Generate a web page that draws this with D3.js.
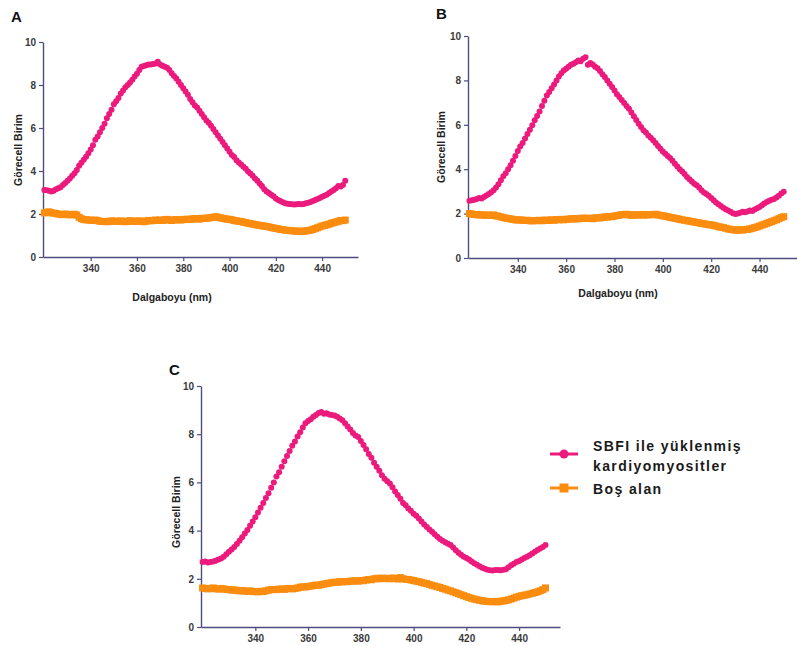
<!DOCTYPE html>
<html>
<head>
<meta charset="utf-8">
<script src="https://cdn.jsdelivr.net/npm/d3@7"></script>
<style>
  body { margin: 0; background: #fff; }
  svg { display: block; font-family: "Liberation Sans", Arial, sans-serif; }
  .tick text { font-size: 10px; font-weight: bold; fill: #3a3a3a; }
  .axistitle { font-size: 10.5px; font-weight: bold; fill: #222; }
  .panel { font-size: 15px; font-weight: bold; fill: #111; }
  .legend { font-size: 14px; font-weight: bold; fill: #1a1a1a; letter-spacing: 1.4px; }
</style>
</head>
<body>
<div id="chart"></div>
<script>
(function() {

const w = 797;
const h = 646;

// wavelength grid (nm), one reading per nm
const wavelengths = d3.range(320, 451);

const seriesNames = ["SBFI ile yüklenmiş", "kardiyomyositler", "Boş alan"];
const yTicks = [0, 2, 4, 6, 8, 10];
const xTicks = [340, 360, 380, 400, 420, 440];

// panel A
const sbfiA = [
  3.12, 3.10, 3.08, 3.05, 3.08, 3.15, 3.20, 3.25, 3.35, 3.44,
  3.55, 3.65, 3.78, 3.90, 4.05, 4.25, 4.38, 4.52, 4.66, 4.82,
  5.00, 5.20, 5.45, 5.60, 5.80, 6.00, 6.20, 6.45, 6.65, 6.85,
  7.10, 7.25, 7.40, 7.60, 7.75, 7.90, 8.00, 8.12, 8.25, 8.40,
  8.52, 8.70, 8.85, 8.88, 8.92, 8.95, 8.95, 8.98, 9.00, 9.08,
  8.95, 8.90, 8.85, 8.80, 8.70, 8.55, 8.42, 8.30, 8.15, 8.00,
  7.85, 7.70, 7.55, 7.35, 7.20, 7.05, 6.95, 6.80, 6.65, 6.50,
  6.35, 6.25, 6.10, 5.95, 5.80, 5.65, 5.50, 5.35, 5.20, 5.05,
  4.90, 4.75, 4.65, 4.50, 4.40, 4.30, 4.20, 4.10, 3.98, 3.88,
  3.78, 3.65, 3.55, 3.42, 3.30, 3.15, 3.05, 2.98, 2.90, 2.82,
  2.72, 2.65, 2.60, 2.55, 2.50, 2.48, 2.46, 2.45, 2.44, 2.45,
  2.47, 2.45, 2.47, 2.50, 2.52, 2.56, 2.60, 2.65, 2.70, 2.75,
  2.80, 2.85, 2.90, 2.98, 3.05, 3.12, 3.20, 3.30, 3.28, 3.35,
  3.55
];
const blankA = [
  2.05, 2.08, 2.10, 2.06, 2.04, 2.02, 2.00, 1.98, 1.97, 2.00,
  1.98, 1.96, 1.97, 1.99, 1.95, 1.85, 1.78, 1.74, 1.73, 1.72,
  1.71, 1.70, 1.72, 1.69, 1.66, 1.65, 1.66, 1.64, 1.65, 1.68,
  1.66, 1.67, 1.65, 1.68, 1.66, 1.64, 1.66, 1.69, 1.67, 1.65,
  1.67, 1.68, 1.66, 1.64, 1.67, 1.70, 1.68, 1.70, 1.72, 1.70,
  1.72, 1.70, 1.73, 1.75, 1.72, 1.70, 1.72, 1.74, 1.73, 1.72,
  1.75, 1.74, 1.76, 1.75, 1.77, 1.79, 1.78, 1.76, 1.80, 1.79,
  1.80, 1.82, 1.83, 1.85, 1.87, 1.85, 1.82, 1.80, 1.78, 1.76,
  1.75, 1.73, 1.70, 1.68, 1.66, 1.65, 1.62, 1.60, 1.57, 1.55,
  1.53, 1.51, 1.49, 1.47, 1.45, 1.44, 1.42, 1.40, 1.37, 1.35,
  1.33, 1.31, 1.28, 1.27, 1.25, 1.24, 1.23, 1.22, 1.21, 1.20,
  1.20, 1.19, 1.20, 1.21, 1.23, 1.25, 1.28, 1.32, 1.36, 1.40,
  1.44, 1.47, 1.50, 1.53, 1.57, 1.60, 1.63, 1.66, 1.70, 1.69,
  1.72
];

// panel B
const sbfiB = [
  2.58, 2.60, 2.62, 2.66, 2.70, 2.68, 2.75, 2.82, 2.88, 2.96,
  3.05, 3.18, 3.32, 3.50, 3.68, 3.82, 4.00, 4.18, 4.38, 4.60,
  4.82, 5.02, 5.18, 5.38, 5.58, 5.78, 5.98, 6.20, 6.40, 6.60,
  6.85, 7.08, 7.32, 7.48, 7.65, 7.82, 8.00, 8.18, 8.32, 8.45,
  8.52, 8.62, 8.70, 8.75, 8.82, 8.90, 8.86, 8.98, 9.04, 8.70,
  8.78, 8.72, 8.62, 8.55, 8.42, 8.28, 8.15, 8.00, 7.85, 7.70,
  7.55, 7.38, 7.25, 7.12, 6.98, 6.85, 6.72, 6.55, 6.38, 6.22,
  6.05, 5.90, 5.76, 5.65, 5.52, 5.42, 5.30, 5.18, 5.05, 4.92,
  4.80, 4.70, 4.60, 4.50, 4.38, 4.25, 4.12, 4.00, 3.90, 3.78,
  3.65, 3.55, 3.45, 3.35, 3.28, 3.18, 3.05, 2.95, 2.88, 2.80,
  2.70, 2.60, 2.50, 2.42, 2.34, 2.26, 2.20, 2.14, 2.08, 2.02,
  1.98, 2.00, 2.04, 2.08, 2.06, 2.10, 2.14, 2.12, 2.18, 2.24,
  2.30, 2.38, 2.45, 2.52, 2.58, 2.62, 2.66, 2.72, 2.80, 2.90,
  2.98
];
const blankB = [
  2.00, 1.98, 1.96, 1.95, 1.94, 1.95, 1.93, 1.92, 1.94, 1.92,
  1.94, 1.90, 1.88, 1.85, 1.82, 1.80, 1.78, 1.76, 1.74, 1.72,
  1.71, 1.72, 1.70, 1.69, 1.70, 1.68, 1.67, 1.69, 1.68, 1.70,
  1.68, 1.70, 1.71, 1.69, 1.72, 1.70, 1.73, 1.72, 1.74, 1.72,
  1.74, 1.75, 1.77, 1.75, 1.78, 1.76, 1.78, 1.80, 1.78, 1.79,
  1.79, 1.77, 1.80, 1.82, 1.80, 1.83, 1.85, 1.84, 1.87, 1.86,
  1.89, 1.91, 1.93, 1.95, 1.96, 1.97, 1.94, 1.92, 1.95, 1.93,
  1.94, 1.96, 1.93, 1.95, 1.94, 1.96, 1.95, 1.97, 1.94, 1.92,
  1.90, 1.88, 1.86, 1.83, 1.81, 1.79, 1.77, 1.74, 1.72, 1.70,
  1.68, 1.66, 1.64, 1.62, 1.60, 1.58, 1.56, 1.54, 1.52, 1.50,
  1.49, 1.47, 1.44, 1.41, 1.39, 1.37, 1.34, 1.31, 1.29, 1.27,
  1.26, 1.25, 1.27, 1.26, 1.28, 1.29, 1.31, 1.34, 1.37, 1.40,
  1.44, 1.48, 1.52, 1.56, 1.60, 1.64, 1.68, 1.72, 1.77, 1.82,
  1.86
];

// panel C
const sbfiC = [
  2.70, 2.72, 2.68, 2.70, 2.72, 2.75, 2.80, 2.84, 2.92, 3.02,
  3.12, 3.22, 3.32, 3.44, 3.58, 3.72, 3.88, 4.02, 4.20, 4.38,
  4.55, 4.75, 4.95, 5.15, 5.35, 5.55, 5.78, 6.00, 6.25, 6.42,
  6.65, 6.88, 7.10, 7.30, 7.52, 7.70, 7.90, 8.08, 8.28, 8.45,
  8.55, 8.62, 8.72, 8.80, 8.88, 8.92, 8.85, 8.87, 8.82, 8.80,
  8.78, 8.72, 8.65, 8.58, 8.45, 8.32, 8.20, 8.05, 7.95, 7.88,
  7.72, 7.55, 7.38, 7.18, 7.02, 6.82, 6.65, 6.48, 6.30, 6.15,
  6.05, 5.95, 5.80, 5.62, 5.48, 5.32, 5.15, 5.05, 4.92, 4.82,
  4.70, 4.62, 4.50, 4.38, 4.25, 4.15, 4.05, 3.95, 3.85, 3.75,
  3.65, 3.58, 3.52, 3.45, 3.40, 3.30, 3.18, 3.08, 3.00, 2.92,
  2.86, 2.80, 2.72, 2.65, 2.58, 2.52, 2.46, 2.42, 2.38, 2.35,
  2.34, 2.36, 2.37, 2.35, 2.38, 2.40, 2.48, 2.56, 2.62, 2.70,
  2.74, 2.80, 2.86, 2.92, 2.98, 3.05, 3.12, 3.20, 3.26, 3.32,
  3.40
];
const blankC = [
  1.62, 1.60, 1.58, 1.60, 1.62, 1.59, 1.57, 1.60, 1.58, 1.56,
  1.55, 1.53, 1.54, 1.52, 1.50, 1.51, 1.49, 1.48, 1.50, 1.47,
  1.47, 1.46, 1.48, 1.47, 1.50, 1.53, 1.55, 1.56, 1.55, 1.57,
  1.58, 1.56, 1.59, 1.60, 1.58, 1.60, 1.62, 1.65, 1.67, 1.66,
  1.68, 1.70, 1.72, 1.74, 1.73, 1.76, 1.78, 1.80, 1.82, 1.84,
  1.86, 1.85, 1.88, 1.87, 1.89, 1.88, 1.90, 1.91, 1.92, 1.90,
  1.93, 1.92, 1.95, 1.97, 1.96, 2.00, 2.02, 2.00, 2.03, 2.01,
  2.02, 2.00, 2.03, 2.02, 1.99, 2.05, 2.00, 1.98, 1.97, 1.95,
  1.93, 1.90, 1.88, 1.85, 1.82, 1.80, 1.76, 1.73, 1.70, 1.67,
  1.64, 1.60, 1.57, 1.53, 1.50, 1.46, 1.42, 1.38, 1.34, 1.30,
  1.26, 1.22, 1.19, 1.16, 1.13, 1.11, 1.09, 1.07, 1.06, 1.05,
  1.05, 1.06, 1.04, 1.07, 1.08, 1.10, 1.13, 1.16, 1.20, 1.24,
  1.27, 1.30, 1.32, 1.34, 1.37, 1.40, 1.43, 1.46, 1.50, 1.55,
  1.62
];

const pink = "#ec1a7d";
const orange = "#fa8c0f";
const axisColour = "#4d4d80";

const svg = d3.select("#chart")
    .append("svg")
    .attr("width", w)
    .attr("height", h);

function drawPanel(p) {
    const xScale = d3.scaleLinear()
        .domain([319.4, 455.5])
        .range([p.left, p.right]);

    const yScale = d3.scaleLinear()
        .domain([0, 10])
        .range([p.bottom, p.top]);

    const g = svg.append("g");

    const xAxis = g.append("g")
        .attr("transform", `translate(0,${p.bottom})`)
        .call(d3.axisBottom(xScale).tickValues(xTicks).tickSize(4).tickPadding(4).tickSizeOuter(0));

    const yAxis = g.append("g")
        .attr("transform", `translate(${p.left},0)`)
        .call(d3.axisLeft(yScale).tickValues(yTicks).tickSize(4).tickPadding(3).tickSizeOuter(0));

    [xAxis, yAxis].forEach(function(a) {
        a.select(".domain").attr("stroke", axisColour).attr("stroke-width", 1.4);
        a.selectAll(".tick line").attr("stroke", axisColour).attr("stroke-width", 1.2);
        a.selectAll(".tick text").attr("font-family", null).attr("font-size", null);
    });

    const pinkData = wavelengths.map(function(x, i) { return {x: x, y: p.sbfi[i]}; });
    const orangeData = wavelengths.map(function(x, i) { return {x: x, y: p.blank[i]}; });

    g.append("g")
        .selectAll("rect")
        .data(orangeData)
        .enter()
        .append("rect")
        .attr("x", function(d) { return xScale(d.x) - 3.5; })
        .attr("y", function(d) { return yScale(d.y) - 3.5; })
        .attr("width", 7)
        .attr("height", 7)
        .attr("fill", orange);

    g.append("g")
        .selectAll("circle")
        .data(pinkData)
        .enter()
        .append("circle")
        .attr("cx", function(d) { return xScale(d.x); })
        .attr("cy", function(d) { return yScale(d.y); })
        .attr("r", 3)
        .attr("fill", pink);

    // y title
    g.append("text")
        .attr("class", "axistitle")
        .attr("transform", `translate(${p.yTitleX},${p.yTitleY}) rotate(-90)`)
        .attr("text-anchor", "middle")
        .text("Görecell Birim");

    if (p.xTitleY) {
        g.append("text")
            .attr("class", "axistitle")
            .attr("x", p.xTitleX)
            .attr("y", p.xTitleY)
            .attr("text-anchor", "middle")
            .text("Dalgaboyu (nm)");
    }

    g.append("text")
        .attr("class", "panel")
        .attr("x", p.letterX)
        .attr("y", p.letterY)
        .text(p.letter);
}

drawPanel({
    letter: "A", letterX: 11, letterY: 22,
    left: 43, right: 358, top: 42, bottom: 257,
    sbfi: sbfiA, blank: blankA,
    yTitleX: 22, yTitleY: 150,
    xTitleX: 172, xTitleY: 301
});

drawPanel({
    letter: "B", letterX: 436, letterY: 19,
    left: 468, right: 797, top: 36, bottom: 258,
    sbfi: sbfiB, blank: blankB,
    yTitleX: 445, yTitleY: 147,
    xTitleX: 618, xTitleY: 297
});

drawPanel({
    letter: "C", letterX: 169, letterY: 375,
    left: 201, right: 560, top: 386, bottom: 627,
    sbfi: sbfiC, blank: blankC,
    yTitleX: 180, yTitleY: 512
});

// legend
const legend = svg.append("g");

legend.append("line")
    .attr("x1", 550).attr("x2", 578)
    .attr("y1", 454).attr("y2", 454)
    .attr("stroke", pink).attr("stroke-width", 3);
legend.append("circle")
    .attr("cx", 564).attr("cy", 454).attr("r", 4.5)
    .attr("fill", pink);

legend.append("line")
    .attr("x1", 550).attr("x2", 578)
    .attr("y1", 488).attr("y2", 488)
    .attr("stroke", orange).attr("stroke-width", 3);
legend.append("rect")
    .attr("x", 559.5).attr("y", 483.5).attr("width", 9).attr("height", 9)
    .attr("fill", orange);

legend.append("text").attr("class", "legend").attr("x", 593).attr("y", 451).text(seriesNames[0]);
legend.append("text").attr("class", "legend").attr("x", 593).attr("y", 471).text(seriesNames[1]);
legend.append("text").attr("class", "legend").attr("x", 593).attr("y", 494).text(seriesNames[2]);

})();
</script>
</body>
</html>
